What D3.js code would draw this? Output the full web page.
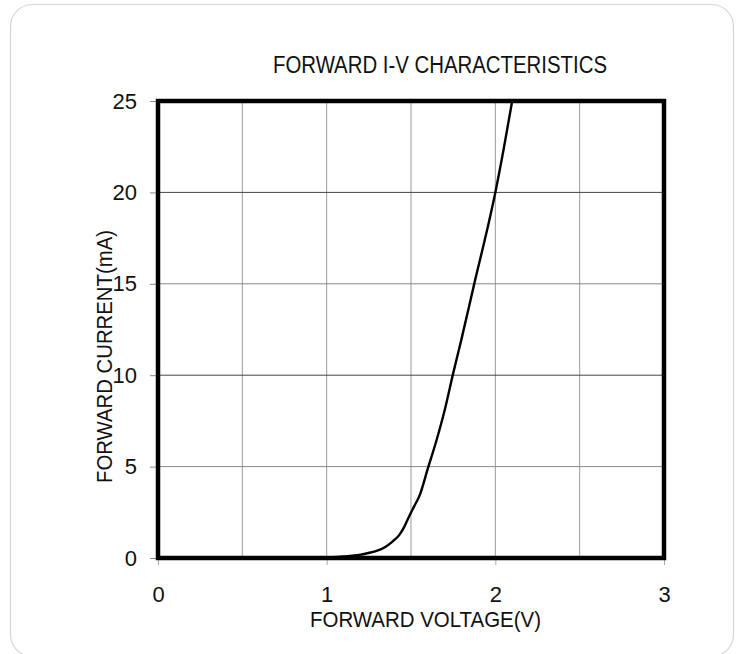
<!DOCTYPE html>
<html>
<head>
<meta charset="utf-8">
<script src="https://cdn.jsdelivr.net/npm/d3@7"></script>
<style>
  html, body { margin: 0; padding: 0; background: #fff; }
  svg { display: block; }
</style>
</head>
<body>
<svg id="chart" width="740" height="654"></svg>
<script>
// ---- data ----
const title = "FORWARD I-V CHARACTERISTICS";
const xTitle = "FORWARD VOLTAGE(V)";
const yTitle = "FORWARD CURRENT(mA)";
const xTicks = [0, 1, 2, 3];
const xGrid = [0.5, 1, 1.5, 2, 2.5];
const yTicks = [0, 5, 10, 15, 20, 25];
const voltage = [0, 0.5, 0.9, 1.0, 1.1, 1.2, 1.26, 1.3, 1.35, 1.39, 1.43, 1.46, 1.49, 1.52, 1.55, 1.6, 1.65, 1.7, 1.75, 1.8, 1.88, 1.95, 2.0, 2.05, 2.1];
const current = [0, 0, 0, 0.03, 0.08, 0.18, 0.3, 0.4, 0.62, 0.9, 1.25, 1.7, 2.3, 2.85, 3.4, 4.9, 6.4, 8.1, 10.1, 12.0, 15.2, 17.9, 20.0, 22.4, 25];

// ---- layout ----
const svg = d3.select("#chart");
const pL = 158, pR = 664, pT = 101, pB = 558;
const x = d3.scaleLinear().domain([0, 3]).range([pL, pR]);
const y = d3.scaleLinear().domain([0, 25]).range([pB, pT]);

// outer rounded card
svg.append("rect")
  .attr("x", 10.5).attr("y", 4.5).attr("width", 723).attr("height", 652)
  .attr("rx", 22).attr("ry", 22)
  .attr("fill", "#fff").attr("stroke", "#d6d6d6").attr("stroke-width", 1.2);

// grid
svg.append("g").selectAll("line").data(xGrid).join("line")
  .attr("x1", d => x(d)).attr("x2", d => x(d))
  .attr("y1", pT).attr("y2", pB)
  .attr("stroke", "#999").attr("stroke-width", 1);
svg.append("g").selectAll("line").data(yTicks.slice(1, -1)).join("line")
  .attr("x1", pL).attr("x2", pR)
  .attr("y1", d => y(d)).attr("y2", d => y(d))
  .attr("stroke", d => (d % 10 === 0) ? "#444" : "#888").attr("stroke-width", 1);

// axes (ticks + labels)
const font = "'Liberation Sans', Arial, sans-serif";

const yAxis = svg.append("g").attr("transform", `translate(${pL},0)`)
  .call(d3.axisLeft(y).tickValues(yTicks).tickSize(8).tickPadding(13).tickFormat(d3.format("d")));
yAxis.select(".domain").remove();
yAxis.selectAll(".tick line").attr("stroke", "#888");
yAxis.selectAll(".tick text").attr("font-family", font).attr("font-size", 22).attr("fill", "#111");

const xAxis = svg.append("g").attr("transform", `translate(0,${pB})`)
  .call(d3.axisBottom(x).tickValues(xTicks).tickSize(7).tickPadding(21).tickFormat(d3.format("d")));
xAxis.select(".domain").remove();
xAxis.selectAll(".tick line").attr("stroke", "#aaa");
xAxis.selectAll(".tick text").attr("font-family", font).attr("font-size", 22).attr("fill", "#111");

// curve
const pts = voltage.map((v, i) => [v, current[i]]);
svg.append("path")
  .datum(pts)
  .attr("fill", "none").attr("stroke", "#000").attr("stroke-width", 2.4)
  .attr("d", d3.line().x(d => x(d[0])).y(d => y(d[1])).curve(d3.curveMonotoneX));

// frame
svg.append("rect")
  .attr("x", pL).attr("y", pT).attr("width", pR - pL).attr("height", pB - pT)
  .attr("fill", "none").attr("stroke", "#000").attr("stroke-width", 4.5);

// titles (condensed look via textLength)
svg.append("text").attr("x", 440).attr("y", 73).attr("text-anchor", "middle")
  .attr("font-family", font).attr("font-size", 23.5).attr("fill", "#111")
  .attr("textLength", 334).attr("lengthAdjust", "spacingAndGlyphs").text(title);
svg.append("text").attr("x", 425.5).attr("y", 627).attr("text-anchor", "middle")
  .attr("font-family", font).attr("font-size", 22.5).attr("fill", "#111")
  .attr("textLength", 231).attr("lengthAdjust", "spacingAndGlyphs").text(xTitle);
svg.append("text").attr("transform", "translate(112,356.5) rotate(-90)").attr("text-anchor", "middle")
  .attr("font-family", font).attr("font-size", 22.5).attr("fill", "#111")
  .attr("textLength", 253).attr("lengthAdjust", "spacingAndGlyphs").text(yTitle);
</script>
</body>
</html>
